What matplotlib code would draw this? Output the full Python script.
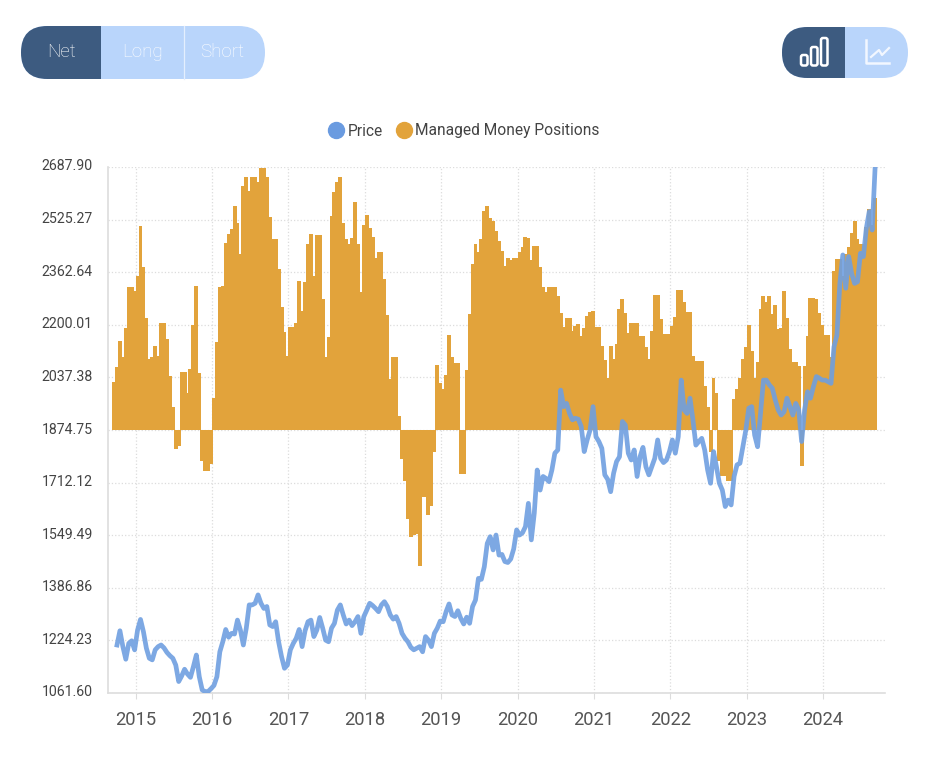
import numpy as np
import matplotlib
matplotlib.use("Agg")
import matplotlib.pyplot as plt
from matplotlib.lines import Line2D
from matplotlib.patches import FancyBboxPatch, Rectangle
from matplotlib.transforms import ScaledTranslation

plt.rcParams['font.family'] = ['Roboto', 'DejaVu Sans']

# values, one value every two weeks
managed_money = [
    2024, 2069, 2151, 2100, 2190, 2316, 2316, 2305, 2350, 2506,
    2380, 2220, 2094, 2100, 2133, 2102, 2205, 2205, 2156, 2043,
    1945, 1816, 1825, 2053, 2053, 1990, 2063, 2200, 2320, 2050,
    1780, 1748, 1748, 1770, 1975, 2146, 2316, 2320, 2454, 2480,
    2496, 2568, 2516, 2420, 2630, 2658, 2613, 2656, 2656, 2642,
    2685, 2685, 2656, 2532, 2465, 2465, 2372, 2254, 2177, 2104,
    2192, 2192, 2207, 2334, 2243, 2331, 2450, 2480, 2350, 2478,
    2478, 2280, 2100, 2161, 2537, 2610, 2640, 2656, 2516, 2465,
    2450, 2467, 2580, 2450, 2300, 2508, 2539, 2498, 2470, 2408,
    2424, 2424, 2341, 2230, 2032, 2100, 2100, 1919, 1785, 1718,
    1600, 1543, 1550, 1553, 1455, 1667, 1667, 1612, 1639, 1806,
    2077, 2020, 2000, 2046, 2170, 2100, 2082, 2082, 1739, 1739,
    2061, 2233, 2388, 2450, 2424, 2465, 2553, 2566, 2529, 2522,
    2490, 2460, 2427, 2382, 2406, 2400, 2406, 2406, 2426, 2440,
    2472, 2469, 2400, 2444, 2444, 2380, 2316, 2300, 2318, 2318,
    2318, 2290, 2238, 2194, 2220, 2220, 2182, 2195, 2202, 2166,
    2190, 2228, 2240, 2243, 2192, 2192, 2135, 2090, 2037, 2135,
    2094, 2140, 2249, 2280, 2238, 2176, 2207, 2207, 2207, 2166,
    2166, 2130, 2094, 2182, 2292, 2292, 2218, 2171, 2171, 2171,
    2197, 2223, 2308, 2308, 2269, 2240, 2240, 2104, 2087, 2087,
    2087, 2012, 1945, 1806, 2037, 1990, 1780, 1733, 1733, 1718,
    1718, 1970, 2000, 2037, 2094, 2130, 2199, 2120, 2037, 2084,
    2249, 2290, 2270, 2290, 2233, 2261, 2187, 2190, 2304, 2220,
    2125, 2084, 2084, 2074, 1764, 2074, 2166, 2283, 2283, 2280,
    2238, 2200, 2168, 2168, 2100, 2367, 2403, 2403, 2350, 2420,
    2440, 2485, 2522, 2465, 2450, 2450, 2501, 2558, 2510, 2593,
]

price = [
    1210, 1254, 1205, 1166, 1215, 1223, 1195, 1256, 1289,
    1251, 1200, 1169, 1164, 1195, 1205, 1210, 1201, 1187, 1177,
    1169, 1148, 1097, 1114, 1135, 1120, 1110, 1143, 1179, 1112,
    1071, 1066, 1066, 1075, 1085, 1112, 1189, 1220, 1258, 1234,
    1246, 1244, 1287, 1256, 1210, 1262, 1334, 1334, 1339, 1365,
    1339, 1323, 1329, 1272, 1267, 1282, 1220, 1174, 1138, 1148,
    1195, 1215, 1231, 1258, 1205, 1254, 1282, 1287, 1236, 1256,
    1295, 1262, 1225, 1220, 1262, 1277, 1318, 1334, 1303, 1275,
    1287, 1270, 1282, 1298, 1246, 1298, 1318, 1339, 1332, 1323,
    1313, 1334, 1344, 1329, 1303, 1290, 1298, 1277, 1246, 1231,
    1220, 1203, 1195, 1200, 1205, 1189, 1236, 1225, 1205, 1246,
    1262, 1284, 1282, 1313, 1337, 1303, 1298, 1316, 1292, 1275,
    1296, 1277, 1329, 1349, 1416, 1413, 1452, 1524, 1545, 1504,
    1550, 1488, 1490, 1468, 1465, 1476, 1507, 1566, 1550, 1557,
    1576, 1648, 1535, 1617, 1751, 1689, 1731, 1725, 1715, 1751,
    1803, 1813, 1998, 1947, 1957, 1926, 1906, 1911, 1908, 1885,
    1808, 1844, 1875, 1947, 1854, 1839, 1818, 1736, 1722, 1684,
    1741, 1777, 1792, 1901, 1890, 1803, 1782, 1813, 1731, 1792,
    1821, 1761, 1736, 1761, 1787, 1844, 1787, 1774, 1782, 1808,
    1844, 1803, 1854, 2029, 1937, 1926, 1973, 1906, 1828, 1839,
    1849, 1813, 1751, 1710, 1808, 1761, 1710, 1689, 1638, 1658,
    1643, 1731, 1767, 1772, 1823, 1875, 1942, 1947, 1859, 1823,
    1926, 2029, 2029, 2014, 2004, 1968, 1937, 1921, 1931, 1973,
    1947, 1921, 1957, 1937, 1839, 1937, 1993, 1973, 2009, 2040,
    2035, 2029, 2029, 2024, 2019, 2132, 2168, 2328, 2416, 2313,
    2411, 2359, 2328, 2333, 2421, 2411, 2498, 2550, 2493, 2688,
]

y_ticks = [1061.60, 1224.23, 1386.86, 1549.49, 1712.12, 1874.75,
           2037.38, 2200.01, 2362.64, 2525.27, 2687.90]
years = [2015, 2016, 2017, 2018, 2019, 2020, 2021, 2022, 2023, 2024]

baseline = 1874.75
start_year = 2014.70
step = 1 / 26
dates = start_year + (np.arange(len(managed_money)) + 0.5) * step
price_dates = dates[-len(price):]

W, H = 927, 758
fig = plt.figure(figsize=(W / 100, H / 100), dpi=100, facecolor='white')

# chart area
ax = fig.add_axes([108 / W, 1 - 693 / H, (885 - 108) / W, (693 - 167) / H])
ax.bar(dates, np.array(managed_money) - baseline, bottom=baseline, width=step * 1.35,
       color='#e2a33b', linewidth=0, zorder=2)
ax.plot(price_dates, price, color='#6f9fe0', alpha=0.9, lw=3.4, solid_joinstyle='round', zorder=3)

ax.set_xlim(2014.64, 2024.81)
ax.set_ylim(y_ticks[0], y_ticks[-1])
ax.set_yticks(y_ticks)
ax.set_yticklabels(['%.2f' % v for v in y_ticks], fontsize=10.2, color='#444444')
ax.set_xticks(years)
ax.set_xticklabels([str(y) for y in years], fontsize=13.2, color='#555555')
ax.grid(True, color='#dcdcdc', linestyle=':', linewidth=0.9, zorder=0)
ax.set_axisbelow(True)
ax.tick_params(axis='y', length=0, pad=11)
ax.tick_params(axis='x', length=4, color='#dcdcdc', pad=9)
# y labels sit a little above their grid lines in the reference
for label in ax.get_yticklabels():
    label.set_transform(label.get_transform() + ScaledTranslation(0, 2 / 100, fig.dpi_scale_trans))
for side in ['top', 'right']:
    ax.spines[side].set_visible(False)
for side in ['left', 'bottom']:
    ax.spines[side].set_color('#dddddd')
    ax.spines[side].set_linewidth(1.2)

handles = [
    Line2D([], [], linestyle='none', marker='o', markersize=11.5, color='#6a9be0', label='Price'),
    Line2D([], [], linestyle='none', marker='o', markersize=11.5, color='#e2a33b', label='Managed Money Positions'),
]
fig.legend(handles=handles, loc='center', bbox_to_anchor=(464 / W, 1 - 131 / H), ncol=2, frameon=False,
           fontsize=11.2, labelcolor='#444444', handlelength=1, handletextpad=0.25, columnspacing=0.85)

# buttons above the chart, drawn in pixel coordinates
ui = fig.add_axes([0, 0, 1, 1], zorder=5)
ui.set_xlim(0, W)
ui.set_ylim(H, 0)
ui.axis('off')
ui.patch.set_alpha(0)

dark = '#3d5b80'
light = '#b9d5fb'


def pill(x0, x1, y0, y1, split):
    box = FancyBboxPatch((x0, y0), x1 - x0, y1 - y0, boxstyle='round,pad=0,rounding_size=%f' % ((y1 - y0) / 2),
                         facecolor=light, edgecolor='none')
    ui.add_patch(box)
    part = Rectangle((x0, y0), split - x0, y1 - y0, facecolor=dark, edgecolor='none')
    ui.add_patch(part)
    part.set_clip_path(box)


pill(21, 265, 26, 79, 101)
ui.plot([184, 184], [26, 79], color='#e4effe', lw=0.9)
ui.text(61, 52, 'Net', color='white', fontsize=13.5, ha='center', va='center', fontweight='light')
ui.text(143, 52, 'Long', color='white', fontsize=13.5, ha='center', va='center', fontweight='light')
ui.text(222, 52, 'Short', color='white', fontsize=13.5, ha='center', va='center', fontweight='light')

pill(782, 908, 27, 78, 845)
for x0, top in [(801, 55), (811, 47), (821, 38)]:
    ui.add_patch(FancyBboxPatch((x0, top), 6.5, 65.5 - top, boxstyle='round,pad=0,rounding_size=2',
                                facecolor='none', edgecolor='white', linewidth=1.8))
ui.plot([866, 866, 889], [40, 63, 63], color='#f2f7ff', lw=1.8)
ui.plot([871, 879, 882, 889], [57, 50, 55, 48], color='#f2f7ff', lw=1.6)

fig.savefig('out.png', dpi=100)
